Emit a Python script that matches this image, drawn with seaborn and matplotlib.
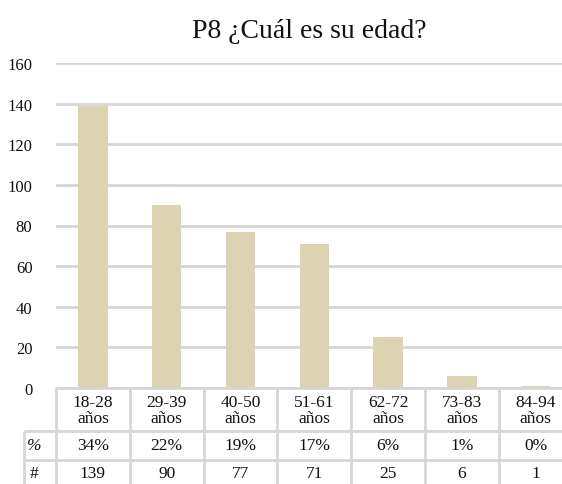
import numpy as np
import pandas as pd
import matplotlib
matplotlib.use('Agg')
import matplotlib.pyplot as plt
import seaborn as sns

# ── Data ──────────────────────────────────────────────────────
rangos = ['18-28', '29-39', '40-50', '51-61', '62-72', '73-83', '84-94']
conteos = [139, 90, 77, 71, 25, 6, 1]
porcentajes = ['34%', '22%', '19%', '17%', '6%', '1%', '0%']
titulo = 'P8 ¿Cuál es su edad?'

BAR = '#dbd3b1'
GRID = '#d6d6d6'
TXT = '#111111'

sns.set_theme(style='white')
plt.rcParams['font.family'] = ['Liberation Serif', 'DejaVu Serif']

df = pd.DataFrame({'rango': rangos, 'n': conteos})

fig = plt.figure(figsize=(5.62, 4.85), dpi=100)
W, H = 562, 485
left, top0, bottom0 = 56, 64, 389
ax = fig.add_axes([left / W, (H - bottom0) / H, (W - left) / W, (bottom0 - top0) / H])

sns.barplot(data=df, x='rango', y='n', color=BAR, width=0.4,
            saturation=1, linewidth=0, ax=ax, zorder=3)

col_w = 73.8
ax.set_xlim(-0.5, -0.5 + (W - left) / col_w)
ax.set_ylim(0, 160)
ax.set_yticks(np.arange(0, 161, 20))
ax.yaxis.grid(True, color=GRID, linewidth=2, zorder=0)
ax.set_axisbelow(True)
for s in ax.spines.values():
    s.set_visible(False)
ax.set_xticks([])
ax.set_xlabel('')
ax.set_ylabel('')
ax.tick_params(axis='y', length=0, pad=17, labelsize=12, labelcolor=TXT)

fig.text(309 / W, 1 - 31 / H, titulo, ha='center', va='center', fontsize=20,
         color=TXT)

# ── Data table below the chart ───────────────────────────────
tab_top = 388
tax = fig.add_axes([left / W, 0, (W - left) / W, (H - tab_top) / H], sharex=ax)
tax.set_ylim(H - tab_top, 0)
tax.axis('off')

r1, r2, r3 = 44, 73, H - tab_top
lbl_left = -0.5 - (left - 24) / col_w
xmax = -0.5 + (W - left) / col_w
kw = dict(color=GRID, linewidth=2, clip_on=False, solid_capstyle='butt')
tax.plot([-0.5, xmax], [1, 1], **kw)
tax.plot([lbl_left, xmax], [r1, r1], **kw)
tax.plot([lbl_left, xmax], [r2, r2], **kw)
for i in range(len(rangos)):
    tax.plot([i - 0.5, i - 0.5], [0, r3], **kw)
tax.plot([lbl_left, lbl_left], [r1, r3], **kw)

for i, (r, p, n) in enumerate(zip(rangos, porcentajes, conteos)):
    tax.text(i, r1 / 2 + 1, f'{r}\naños', ha='center', va='center',
             fontsize=12.5, linespacing=0.95, color=TXT)
    tax.text(i, (r1 + r2) / 2, p, ha='center', va='center', fontsize=12.5,
             color=TXT)
    tax.text(i, (r2 + r3) / 2 + 1, str(n), ha='center', va='center',
             fontsize=12.5, color=TXT)

lx = (lbl_left + -0.5) / 2
tax.text(lx - 0.08, (r1 + r2) / 2, '%', ha='center', va='center',
         fontsize=12.5, style='italic', color=TXT)
tax.text(lx - 0.08, (r2 + r3) / 2 + 1, '#', ha='center', va='center',
         fontsize=12.5, color=TXT)

plt.savefig('out.png', dpi=100)
plt.close()
